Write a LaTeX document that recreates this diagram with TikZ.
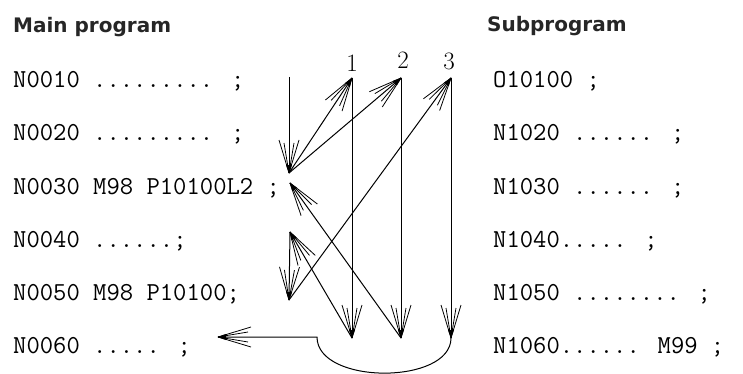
\documentclass[tikz,border=0pt]{standalone}
\usepackage{fontspec}
\newfontfamily\titlefont{DejaVu Sans}
\usetikzlibrary{decorations.markings}
\tikzset{
  code/.style={anchor=base west, inner sep=0pt, font=\ttfamily\addfontfeatures{FakeBold=0.8}\fontsize{25.9}{26}\selectfont},
  ttl/.style={anchor=base west, inner sep=0pt, text=black!85, font=\titlefont\bfseries\fontsize{20}{20}\selectfont},
  num/.style={anchor=base, inner sep=0pt, font=\rmfamily\fontsize{25}{25}\selectfont},
  arr/.style={line width=1pt, postaction={decorate}, decoration={markings,
    mark=at position 1 with {
      \fill (0.5pt,0) -- (-8pt,3pt) -- (-8pt,-3pt) -- cycle;
      \draw[line width=0.8pt] (0,0) -- (-33pt,10pt);
      \draw[line width=0.8pt] (0,0) -- (-33pt,-10pt);
      \draw[line width=0.8pt] (0,0) -- (-30pt,5pt);
      \draw[line width=0.8pt] (0,0) -- (-30pt,-5pt);
    }}},
}
\begin{document}
\begin{tikzpicture}[x=1pt,y=-1pt]
\useasboundingbox (0,0) rectangle (743,374);
% titles
\node[ttl] (tmain) at (13,33) {Main program};
\node[ttl] (tsub) at (487,32) {Subprogram};
% main program lines
\node[code] (m1) at (13,88) {N0010 ......... ;};
\node[code] (m2) at (13,141) {N0020 ......... ;};
\node[code] (m3) at (13,194) {N0030 M98 P10100L2 ;};
\node[code] (m4) at (13,247) {N0040 ......;};
\node[code] (m5) at (13,300) {N0050 M98 P10100;};
\node[code] (m6) at (13,353) {N0060 ..... ;};
% subprogram lines
\node[code] (s1) at (493,88) {O10100 ;};
\node[code] (s2) at (493,141) {N1020 ...... ;};
\node[code] (s3) at (493,194) {N1030 ...... ;};
\node[code] (s4) at (493,247) {N1040.....  ;};
\node[code] (s5) at (493,300) {N1050 ........ ;};
\node[code] (s6) at (493,353) {N1060......  M99 ;};
% column labels
\node[num] (n1) at (352,72) {1};
\node[num] (n2) at (403,69) {2};
\node[num] (n3) at (449,70) {3};
% path points
\coordinate (s0) at (289,77);
\coordinate (A) at (289,173);
\coordinate (R) at (290,183);
\coordinate (B) at (290,232);
\coordinate (C) at (289,300);
\coordinate (t1) at (352,78);
\coordinate (t2) at (401,78);
\coordinate (t3) at (451,78);
\coordinate (b1) at (352,338);
\coordinate (b2) at (401,338);
\coordinate (b3) at (451,338);
\coordinate (k) at (317,337);
\coordinate (E) at (218,337);
% connectors
\draw[arr] (s0) -- (A);
\draw[arr] (A) -- (t1);
\draw[arr] (A) -- (t2);
\draw[arr] (t1) -- (b1);
\draw[arr] (t2) -- (b2);
\draw[arr] (t3) -- (b3);
\draw[arr] (b2) -- (R);
\draw[arr] (b1) -- (B);
\draw[arr] (B) -- (C);
\draw[arr] (C) -- (t3);
\draw[arr] (b3) .. controls (451,385) and (317,385) .. (k) -- (E);
\end{tikzpicture}
\end{document}
